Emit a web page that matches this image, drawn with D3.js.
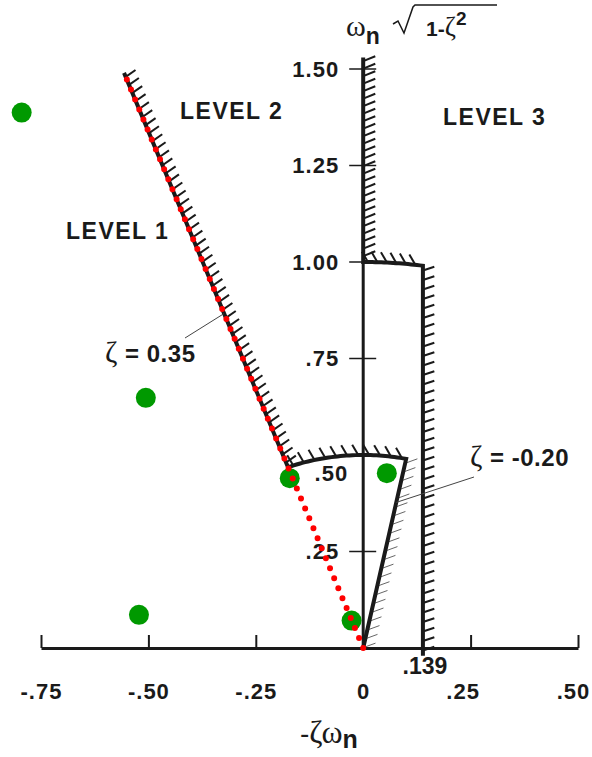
<!DOCTYPE html>
<html>
<head>
<meta charset="utf-8">
<script src="https://cdn.jsdelivr.net/npm/d3@7"></script>
<style>
body { margin: 0; background: #fff; }
text { font-family: Arial, "Liberation Sans", sans-serif; fill: #1a1a1a; }
.greek { font-family: "Liberation Serif", "DejaVu Serif", serif; font-weight: normal; }
</style>
</head>
<body>
<div id="vis"></div>
<script>
/*************************** data ************************************/
var xTicks = [-0.75, -0.50, -0.25, 0, 0.25, 0.50];
var xTickLabels = ["-.75", "-.50", "-.25", "0", ".25", ".50"];
var yTicks = [0.25, 0.50, 0.75, 1.00, 1.25, 1.50];
var yTickLabels = [".25", ".50", ".75", "1.00", "1.25", "1.50"];

// level boundaries
var zetaLevel1 = 0.35;      // left boundary
var zetaLevel1b = -0.20;    // right boundary of level 1
var wnLevel1 = 0.5;         // min natural freq of level 1
var wnLevel2 = 1.0;         // min natural freq of level 2 on the axis
var sigmaLevel2 = 0.139;    // level 2 / 3 boundary
var zetaLineTop = 1.49;     // top of the zeta = 0.35 line
var axisTop = 1.53;

// poles: [-zeta*wn, wn*sqrt(1-zeta^2)]
var poleRe = [-0.795, -0.506, -0.522, -0.171, 0.055, -0.027];
var poleIm = [1.387, 0.648, 0.086, 0.440, 0.453, 0.071];

var levels = ["LEVEL 1", "LEVEL 2", "LEVEL 3"];

/*************************** setup ************************************/
var W = 592, H = 757;
var svg = d3.select("div#vis").append("svg")
    .attr("width", W)
    .attr("height", H);

var x = d3.scaleLinear().domain([-0.75, 0.5]).range([41, 578]);
var y = d3.scaleLinear().domain([0, 1.5]).range([648, 69]);
var x0 = x(0), y0 = y(0);

function zpt(z, wn) { return [x(-z * wn), y(wn * Math.sqrt(1 - z * z))]; }
function arcPts(wn, phi1, phi2, n) {
    return d3.range(n + 1).map(function(i) {
        var p = phi1 + (phi2 - phi1) * i / n;
        return [x(wn * Math.cos(p)), y(wn * Math.sin(p))];
    });
}

var line = d3.line();

// hatch marks along a polyline (pixel coords)
function hatch(g, pts, step, len, ang, sw, col) {
    var segs = [], tot = 0;
    for (var i = 1; i < pts.length; i++) {
        var dx = pts[i][0] - pts[i-1][0], dy = pts[i][1] - pts[i-1][1];
        var l = Math.sqrt(dx * dx + dy * dy);
        segs.push({a: pts[i-1], dx: dx, dy: dy, l: l, s: tot});
        tot += l;
    }
    var marks = [];
    for (var d = step / 2; d < tot; d += step) {
        var sg = segs.find(function(s) { return d >= s.s && d <= s.s + s.l; });
        var t = (d - sg.s) / sg.l;
        marks.push([sg.a[0] + sg.dx * t, sg.a[1] + sg.dy * t]);
    }
    var r = ang * Math.PI / 180;
    g.selectAll(null)
        .data(marks)
      .enter().append("line")
        .attr("x1", function(p) { return p[0]; })
        .attr("y1", function(p) { return p[1]; })
        .attr("x2", function(p) { return p[0] + len * Math.cos(r); })
        .attr("y2", function(p) { return p[1] - len * Math.sin(r); })
        .attr("stroke", col)
        .attr("stroke-width", sw);
}

/*************************** axes ************************************/
var xAxis = d3.axisBottom(x)
    .tickValues(xTicks)
    .tickFormat(function(d, i) { return xTickLabels[i]; })
    .tickSizeInner(-13)
    .tickSizeOuter(0)
    .tickPadding(35);

var gx = svg.append("g")
    .attr("transform", "translate(0," + y0 + ")")
    .call(xAxis);
gx.select(".domain").attr("stroke", "#1a1a1a").attr("stroke-width", 3);
gx.selectAll(".tick line").attr("stroke", "#1a1a1a").attr("stroke-width", 2);
gx.selectAll(".tick text")
    .attr("fill", "#1a1a1a")
    .style("font-size", "22px")
    .style("font-weight", "bold")
    .style("letter-spacing", "1px")
    .attr("dx", function(d) { return d === 0.25 ? -8 : d === 0.5 ? -5 : 0; });

// y axis
svg.append("line")
    .attr("x1", x0).attr("x2", x0)
    .attr("y1", y(wnLevel2)).attr("y2", y0)
    .attr("stroke", "#1a1a1a").attr("stroke-width", 3);

var gy = svg.append("g");
gy.selectAll("line.ytick")
    .data(yTicks)
  .enter().append("line")
    .attr("class", "ytick")
    .attr("x1", x0 - 14).attr("x2", x0 + 13)
    .attr("y1", function(d) { return y(d); })
    .attr("y2", function(d) { return y(d); })
    .attr("stroke", "#1a1a1a").attr("stroke-width", 1.5);

gy.selectAll("text")
    .data(yTicks)
  .enter().append("text")
    .attr("x", function(d) { return d === 0.5 ? x0 - 15 : x0 - 24; })
    .attr("y", function(d) { return y(d) + (d === 0.5 ? 18 : 0); })
    .attr("dy", "0.36em")
    .attr("text-anchor", "end")
    .style("font-size", "22px")
    .style("font-weight", "bold")
    .style("letter-spacing", "1px")
    .text(function(d, i) { return yTickLabels[i]; });

/*************************** boundaries ************************************/
var gb = svg.append("g");

// level 1 / 2 boundary: zeta = 0.35, wn = 0.5 arc, zeta = -0.20
var wnTop = zetaLineTop / Math.sqrt(1 - zetaLevel1 * zetaLevel1);
var zLine = [zpt(zetaLevel1, wnTop), zpt(zetaLevel1, wnLevel1)];
var arc1 = arcPts(wnLevel1, Math.acos(-zetaLevel1), Math.acos(-zetaLevel1b), 40);
var zLine2 = [zpt(zetaLevel1b, wnLevel1), zpt(zetaLevel1b, 0)];

hatch(gb, zLine, 8.7, 12, 35, 2, "#1a1a1a");
hatch(gb, arc1, 11, 12, 120, 2, "#1a1a1a");
hatch(gb, zLine2, 9, 13, 20, 1, "#666");

gb.append("path")
    .attr("d", line(zLine.concat(arc1.slice(1), zLine2.slice(1))))
    .attr("fill", "none")
    .attr("stroke", "#1a1a1a")
    .attr("stroke-width", 4)
    .attr("stroke-linejoin", "miter");

// level 2 / 3 boundary: axis, wn = 1 arc, sigma = 0.139
var axisSeg = [[x0, y(axisTop)], [x0, y(wnLevel2)]];
var arc2 = arcPts(wnLevel2, Math.PI / 2, Math.acos(sigmaLevel2), 20);
var sigSeg = [[x(sigmaLevel2), y(Math.sqrt(1 - sigmaLevel2 * sigmaLevel2))],
              [x(sigmaLevel2), y(-0.02)]];

hatch(gb, axisSeg, 7.5, 13, 22, 2, "#1a1a1a");
hatch(gb, arc2, 9.5, 12, 120, 2, "#1a1a1a");
hatch(gb, sigSeg, 9.5, 12, 18, 2, "#1a1a1a");

gb.append("path")
    .attr("d", line(axisSeg.concat(arc2.slice(1), sigSeg)))
    .attr("fill", "none")
    .attr("stroke", "#1a1a1a")
    .attr("stroke-width", 4);

/*************************** poles ************************************/
svg.append("g").selectAll("circle")
    .data(poleRe)
  .enter().append("circle")
    .attr("cx", function(d) { return x(d); })
    .attr("cy", function(d, i) { return y(poleIm[i]); })
    .attr("r", 10)
    .attr("fill", "#009900");

// red dotted zeta = 0.35 ray
svg.append("path")
    .attr("d", line([zpt(zetaLevel1, 0), zpt(zetaLevel1, wnTop)]))
    .attr("stroke", "#ff0000")
    .attr("stroke-width", 6)
    .attr("stroke-linecap", "round")
    .attr("stroke-dasharray", "0,10.8")
    .attr("fill", "none");

/*************************** labels ************************************/
svg.append("g").selectAll("text")
    .data(levels)
  .enter().append("text")
    .attr("x", function(d, i) { return [66, 180, 443][i]; })
    .attr("y", function(d, i) { return [239, 119, 125][i]; })
    .style("font-size", "23px")
    .style("font-weight", "bold")
    .style("letter-spacing", "1.5px")
    .text(function(d) { return d; });

// zeta annotations
var lbl1 = svg.append("text")
    .attr("x", 105).attr("y", 362)
    .style("font-size", "24px").style("font-weight", "bold")
    .style("letter-spacing", "0.5px");
lbl1.append("tspan").attr("class", "greek").style("font-size", "30px").text("\u03b6");
lbl1.append("tspan").text(" = " + zetaLevel1.toFixed(2));

var lead1 = zpt(zetaLevel1, 0.925);
svg.append("line")
    .attr("x1", 185).attr("y1", 338)
    .attr("x2", lead1[0]).attr("y2", lead1[1])
    .attr("stroke", "#444").attr("stroke-width", 1);

var lbl2 = svg.append("text")
    .attr("x", 470).attr("y", 466)
    .style("font-size", "24px").style("font-weight", "bold")
    .style("letter-spacing", "0.5px");
lbl2.append("tspan").attr("class", "greek").style("font-size", "30px").text("\u03b6");
lbl2.append("tspan").text(" = " + zetaLevel1b.toFixed(2));

var lead2 = zpt(zetaLevel1b, 0.385);
svg.append("line")
    .attr("x1", 474).attr("y1", 477)
    .attr("x2", lead2[0]).attr("y2", lead2[1])
    .attr("stroke", "#444").attr("stroke-width", 1);

// .139 label
svg.append("text")
    .attr("x", x(sigmaLevel2) + 2).attr("y", 674)
    .attr("text-anchor", "middle")
    .style("font-size", "23px").style("font-weight", "bold")
    .text(".139");

// axis titles
var xt = svg.append("text")
    .attr("x", 300).attr("y", 743);
xt.append("tspan").style("font-size", "28px").text("-");
xt.append("tspan").attr("class", "greek").style("font-size", "32px").text("\u03b6\u03c9");
xt.append("tspan").attr("dy", 5).style("font-size", "25px").style("font-weight", "bold").text("n");

var yt = svg.append("text")
    .attr("x", 346).attr("y", 36);
yt.append("tspan").attr("class", "greek").style("font-size", "30px").text("\u03c9");
yt.append("tspan").attr("dy", 8).style("font-size", "23px").style("font-weight", "bold").text("n");

svg.append("path")
    .attr("d", "M393,24 L398,21 L404,33 L413,7 L415,5 H497")
    .attr("fill", "none")
    .attr("stroke", "#1a1a1a")
    .attr("stroke-width", 1.5);

var yt2 = svg.append("text")
    .attr("x", 426).attr("y", 36)
    .style("font-size", "21px").style("font-weight", "bold");
yt2.append("tspan").text("1-");
yt2.append("tspan").attr("class", "greek").style("font-size", "27px").text("\u03b6");
yt2.append("tspan").attr("dy", -11).style("font-size", "19px").text("2");
</script>
</body>
</html>
